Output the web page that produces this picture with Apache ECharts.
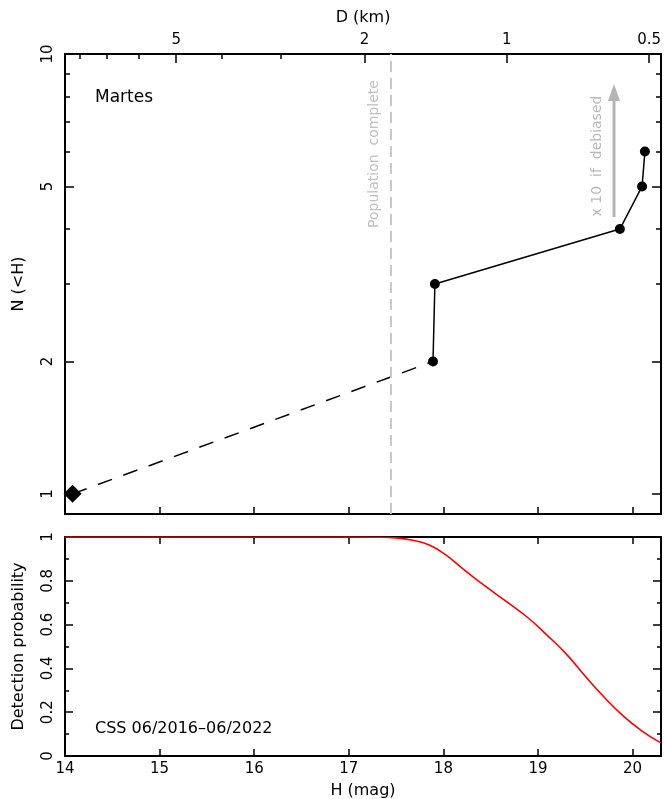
<!DOCTYPE html>
<html>
<head>
<meta charset="utf-8">
<script src="https://cdn.jsdelivr.net/npm/echarts@6/dist/echarts.min.js"></script>
<style>html,body{margin:0;padding:0;background:#fff}#c{width:664px;height:799px}</style>
</head>
<body>
<div id="c"></div>
<script>
// ---- data ----
const diamondH = [14.08];
const diamondN = [1];
const extrapH = [14.08, 17.89];
const extrapN = [1, 2];
const cumH = [17.89, 17.91, 19.865, 20.10, 20.13];
const cumN = [2, 3, 4, 5, 6];
const completeH = 17.44;
const detH = [14, 16, 17, 17.3, 17.5, 17.7, 17.85, 18.0, 18.2, 18.45, 18.69, 18.9, 19.1, 19.3, 19.5, 19.7, 19.9, 20.1, 20.3];
const detP = [1, 1, 1, 0.999, 0.996, 0.983, 0.963, 0.926, 0.857, 0.773, 0.698, 0.629, 0.550, 0.465, 0.364, 0.268, 0.183, 0.114, 0.06];
const hTicks = [14, 15, 16, 17, 18, 19, 20];
const nMajorTicks = [1, 2, 5, 10];
const nMinorTicks = [3, 4, 6, 7, 8, 9];
const dMajorTicks = [5, 2, 1, 0.5];
const dMinorTicks = [8, 7, 6, 4, 3];
const H0 = 18.67; // H where D = 1 km

const dToH = d => H0 - 5 * Math.log10(d);
const font = 'DejaVu Sans';
const black = '#000';
const zip = (a, b) => a.map((v, i) => [v, b[i]]);

const G1 = {left: 65, right: 3, top: 54, height: 460, outerBoundsMode: 'none', containLabel: false};
const G2 = {left: 65, right: 3, top: 537, height: 219, outerBoundsMode: 'none', containLabel: false};

const baseX = (grid, pos, extra) => Object.assign({
  type: 'value', gridIndex: grid, position: pos, min: 14, max: 20.3,
  axisLine: {show: true, onZero: false, lineStyle: {color: black, width: 2}},
  axisTick: {show: true, inside: true, length: 7, customValues: hTicks, lineStyle: {color: black, width: 1.5}},
  axisLabel: {show: false},
  splitLine: {show: false}
}, extra || {});

const chart = echarts.init(document.getElementById('c'));
chart.setOption({
  animation: false,
  backgroundColor: '#fff',
  grid: [G1, G2],
  xAxis: [
    baseX(0, 'bottom'),
    baseX(0, 'top', {
      name: 'D (km)', nameLocation: 'middle', nameGap: 28,
      nameTextStyle: {fontFamily: font, fontSize: 16, color: black},
      axisTick: {show: true, inside: true, length: 9, customValues: dMajorTicks.map(dToH), lineStyle: {color: black, width: 1.5}},
      axisLabel: {show: true, customValues: dMajorTicks.map(dToH), margin: 6, fontFamily: font, fontSize: 15, color: black,
        formatter: v => { let best = dMajorTicks[0]; dMajorTicks.forEach(d => { if (Math.abs(dToH(d) - v) < Math.abs(dToH(best) - v)) best = d; }); return String(best); }}
    }),
    baseX(0, 'top', {
      axisLine: {show: false, onZero: false},
      axisTick: {show: true, inside: true, length: 5, customValues: dMinorTicks.map(dToH), lineStyle: {color: black, width: 1.5}}
    }),
    baseX(1, 'bottom', {
      name: 'H (mag)', nameLocation: 'middle', nameGap: 27,
      nameTextStyle: {fontFamily: font, fontSize: 16, color: black},
      axisLabel: {show: true, customValues: hTicks, margin: 6, fontFamily: font, fontSize: 15, color: black}
    }),
    baseX(1, 'top')
  ],
  yAxis: [
    {
      type: 'log', gridIndex: 0, position: 'left', min: 0.9, max: 10, logBase: 10,
      name: 'N (<H)', nameLocation: 'middle', nameGap: 38,
      nameTextStyle: {fontFamily: font, fontSize: 16, color: black},
      axisLine: {show: true, onZero: false, lineStyle: {color: black, width: 2}},
      axisTick: {show: true, inside: true, length: 9, customValues: nMajorTicks, lineStyle: {color: black, width: 1.5}},
      axisLabel: {show: true, customValues: nMajorTicks, rotate: 90, margin: 9, fontFamily: font, fontSize: 15, color: black},
      splitLine: {show: false}
    },
    {
      type: 'log', gridIndex: 0, position: 'left', min: 0.9, max: 10, logBase: 10,
      axisLine: {show: false, onZero: false},
      axisTick: {show: true, inside: true, length: 5, customValues: nMinorTicks, lineStyle: {color: black, width: 1.5}},
      axisLabel: {show: false}, splitLine: {show: false}
    },
    {
      type: 'log', gridIndex: 0, position: 'right', min: 0.9, max: 10, logBase: 10,
      axisLine: {show: true, onZero: false, lineStyle: {color: black, width: 2}},
      axisTick: {show: true, inside: true, length: 9, customValues: nMajorTicks, lineStyle: {color: black, width: 1.5}},
      axisLabel: {show: false}, splitLine: {show: false}
    },
    {
      type: 'log', gridIndex: 0, position: 'right', min: 0.9, max: 10, logBase: 10,
      axisLine: {show: false, onZero: false},
      axisTick: {show: true, inside: true, length: 5, customValues: nMinorTicks, lineStyle: {color: black, width: 1.5}},
      axisLabel: {show: false}, splitLine: {show: false}
    },
    {
      type: 'value', gridIndex: 1, position: 'left', min: 0, max: 1, interval: 0.2,
      name: 'Detection probability', nameLocation: 'middle', nameGap: 38,
      nameTextStyle: {fontFamily: font, fontSize: 16, color: black},
      axisLine: {show: true, onZero: false, lineStyle: {color: black, width: 2}},
      axisTick: {show: true, inside: true, length: 8, lineStyle: {color: black, width: 1.5}},
      minorTick: {show: true, splitNumber: 2, length: 4, lineStyle: {color: black, width: 1.5}},
      axisLabel: {show: true, rotate: 90, margin: 9, fontFamily: font, fontSize: 15, color: black},
      splitLine: {show: false}
    },
    {
      type: 'value', gridIndex: 1, position: 'right', min: 0, max: 1, interval: 0.2,
      axisLine: {show: true, onZero: false, lineStyle: {color: black, width: 2}},
      axisTick: {show: true, inside: true, length: 8, lineStyle: {color: black, width: 1.5}},
      minorTick: {show: true, splitNumber: 2, length: 4, lineStyle: {color: black, width: 1.5}},
      axisLabel: {show: false}, splitLine: {show: false}
    }
  ],
  series: [
    {
      type: 'line', xAxisIndex: 0, yAxisIndex: 0, data: zip(extrapH, extrapN),
      symbol: 'none', lineStyle: {color: black, width: 1.5, type: [15, 12]}, z: 3,
      markLine: {
        silent: true, symbol: 'none', label: {show: false},
        lineStyle: {color: '#c8c8c8', width: 2, type: [11, 6]},
        data: [{xAxis: completeH}]
      }
    },
    {
      type: 'line', xAxisIndex: 0, yAxisIndex: 0, data: zip(cumH, cumN),
      symbol: 'circle', symbolSize: 10, itemStyle: {color: black},
      lineStyle: {color: black, width: 1.5}, z: 4
    },
    {
      type: 'scatter', xAxisIndex: 0, yAxisIndex: 0, data: zip(diamondH, diamondN),
      symbol: 'diamond', symbolSize: [18, 18], itemStyle: {color: black, opacity: 1}, z: 5
    },
    {
      type: 'line', xAxisIndex: 3, yAxisIndex: 4, data: zip(detH, detP),
      symbol: 'none', smooth: 0.5, lineStyle: {color: '#ff0000', width: 1.6}
    }
  ],
  graphic: [
    {type: 'text', x: 95, y: 98, style: {text: 'Martes', font: '17px "DejaVu Sans"', fill: black, verticalAlign: 'middle'}},
    {type: 'text', x: 95, y: 729, style: {text: 'CSS 06/2016\u201306/2022', font: '16px "DejaVu Sans"', fill: black, verticalAlign: 'middle'}},
    {type: 'text', x: 374, y: 154, rotation: Math.PI / 2, style: {text: 'Population  complete', font: '14px "DejaVu Sans"', fill: '#c0c0c0', align: 'center', verticalAlign: 'middle'}},
    {type: 'text', x: 597, y: 156, rotation: Math.PI / 2, style: {text: 'x 10  if  debiased', font: '14px "DejaVu Sans"', fill: '#b8b8b8', align: 'center', verticalAlign: 'middle'}},
    {type: 'line', shape: {x1: 614, y1: 217, x2: 614, y2: 98}, style: {stroke: '#b5b5b5', lineWidth: 3}},
    {type: 'polygon', shape: {points: [[608, 101], [620, 101], [614, 84]]}, style: {fill: '#b5b5b5'}}
  ]
});
</script>
</body>
</html>
